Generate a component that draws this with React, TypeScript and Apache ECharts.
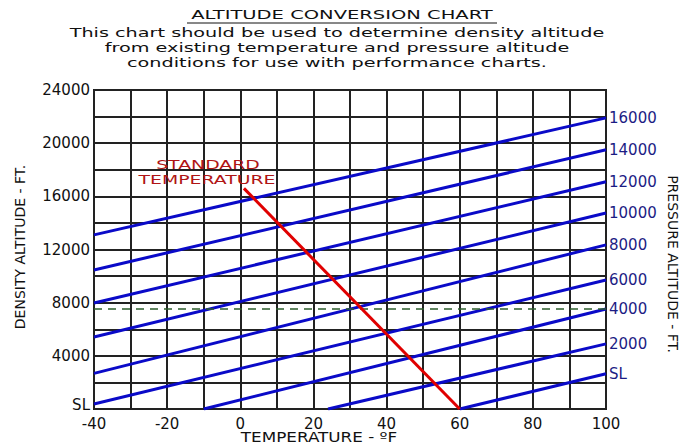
import React, { useEffect, useRef } from "react";
import * as echarts from "echarts";

// Pressure altitude lines (density altitude vs temperature)
const pressureAltitudes = ["16000", "14000", "12000", "10000", "8000", "6000", "4000", "2000", "SL"];
const lineStartTemp = [-40, -40, -40, -40, -40, -40, -10, 24, 60];
const lineStartDA = [13100, 10460, 7970, 5420, 2680, 380, 0, 0, 0];
const lineEndTemp = [100, 100, 100, 100, 100, 100, 100, 100, 100];
const lineEndDA = [21900, 19500, 17100, 14750, 12350, 9700, 7520, 4900, 2650];

// Standard temperature line
const stdTemp = [1, 60];
const stdDA = [16600, 0];

// Example dashed density altitude
const exampleTemp = [-40, 100];
const exampleDA = [7520, 7520];

const titleText = "ALTITUDE CONVERSION CHART";
const subtitleLines = [
  "This chart should be used to determine density altitude",
  "from existing temperature and pressure altitude",
  "conditions for use with performance charts.",
];

const FONT = "DejaVu Sans";

export default function App() {
  const ref = useRef<HTMLDivElement>(null);
  useEffect(() => {
    if (!ref.current) return;
    const chart = echarts.init(ref.current, null, { renderer: "svg" });
    const paSeries = pressureAltitudes.map((name, i) => ({
      type: "line",
      name,
      symbol: "none",
      silent: true,
      data: [
        [lineStartTemp[i], lineStartDA[i]],
        [lineEndTemp[i], lineEndDA[i]],
      ],
      lineStyle: { color: "#0a0ac8", width: 3 },
      endLabel: {
        show: true,
        formatter: "{a}",
        color: "#1c1c84",
        fontFamily: FONT,
        fontSize: 15,
        distance: 3,
      },
      z: 3,
    }));
    const txt = (text: string, x: number, y: number, size: number, sx: number, fill = "#111", extra: any = {}) => ({
      type: "text",
      x,
      y,
      scaleX: sx,
      style: {
        text,
        font: `${size}px "${FONT}"`,
        fill,
        align: "center",
        verticalAlign: "middle",
      },
      ...extra,
    });
    chart.setOption({
      animation: false,
      grid: {
        left: 94,
        right: 78,
        top: 90,
        bottom: 35,
        show: true,
        borderColor: "#1e1e1e",
        borderWidth: 2,
        backgroundColor: "#fff",
      },
      xAxis: {
        type: "value",
        min: -40,
        max: 100,
        interval: 10,
        axisLine: { show: false },
        axisTick: { show: false },
        splitLine: { show: true, lineStyle: { color: "#222", width: 2 } },
        axisLabel: {
          color: "#111",
          fontFamily: FONT,
          fontSize: 15,
          lineHeight: 13,
          margin: 8,
          formatter: (v: number) => (v % 20 === 0 ? String(v) : ""),
        },
      },
      yAxis: {
        type: "value",
        min: 0,
        max: 24000,
        interval: 2000,
        axisLine: { show: false },
        axisTick: { show: false },
        splitLine: { show: true, lineStyle: { color: "#222", width: 2 } },
        axisLabel: {
          color: "#111",
          fontFamily: FONT,
          fontSize: 15,
          lineHeight: 13,
          margin: 4,
          formatter: (v: number) => (v !== 0 && v % 4000 === 0 ? String(v) : ""),
        },
      },
      series: [
        ...paSeries,
        {
          type: "line",
          name: "Example",
          symbol: "none",
          silent: true,
          data: exampleTemp.map((t, i) => [t, exampleDA[i]]),
          lineStyle: { color: "#2d5e2d", width: 1.5, type: [8, 6] },
          z: 4,
        },
        {
          type: "line",
          name: "Standard Temperature",
          symbol: "none",
          silent: true,
          data: stdTemp.map((t, i) => [t, stdDA[i]]),
          lineStyle: { color: "#e00000", width: 3 },
          z: 5,
        },
      ],
      graphic: [
        txt(titleText, 342, 15, 13, 1.5),
        {
          type: "line",
          shape: { x1: 187, y1: 23, x2: 497, y2: 23 },
          style: { stroke: "#111", lineWidth: 1 },
        },
        ...subtitleLines.map((t, i) => txt(t, 337, 33 + i * 15, 13, 1.48)),
        txt("STANDARD", 208, 165, 13, 1.45, "#b01414", { z: 10 }),
        txt("TEMPERATURE", 207, 180, 13, 1.45, "#b01414", { z: 10 }),
        txt("TEMPERATURE - ºF", 319, 437, 14, 1.2),
        {
          type: "text",
          x: 90,
          y: 405,
          style: { text: "SL", font: `15px "${FONT}"`, fill: "#111", align: "right", verticalAlign: "middle" },
        },
        {
          type: "text",
          x: 20,
          y: 247,
          rotation: Math.PI / 2,
          style: { text: "DENSITY ALTITUDE - FT.", font: `14px "${FONT}"`, fill: "#111", align: "center", verticalAlign: "middle" },
        },
        {
          type: "text",
          x: 673,
          y: 264,
          rotation: -Math.PI / 2,
          style: { text: "PRESSURE ALTITUDE - FT.", font: `14px "${FONT}"`, fill: "#111", align: "center", verticalAlign: "middle" },
        },
      ],
    });
    return () => chart.dispose();
  }, []);
  return (
    <div
      ref={ref}
      style={{ position: "fixed", left: 0, top: 0, width: 684, height: 444, background: "#fff" }}
    />
  );
}
